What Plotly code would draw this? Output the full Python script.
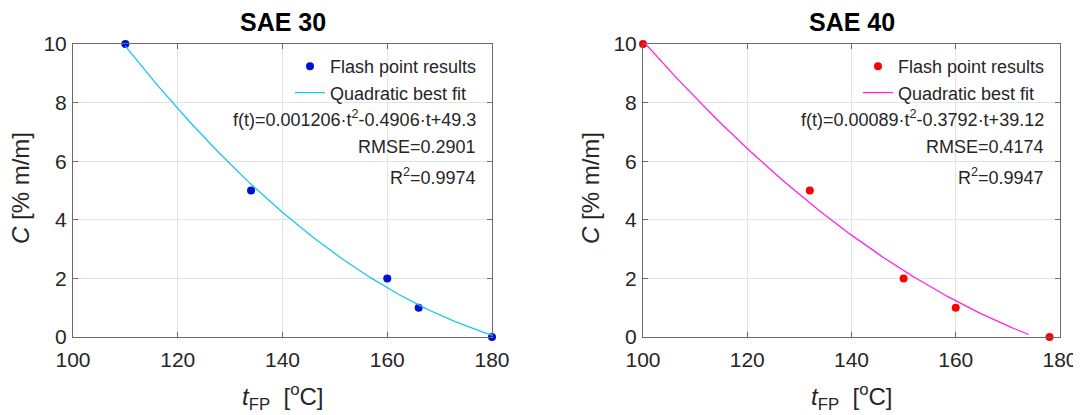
import numpy as np
import plotly.graph_objects as go

# ---- data ----
t_sae30 = [110, 134, 160, 166, 180]
c_sae30 = [10, 5, 2, 1, 0]
t_sae40 = [100, 132, 150, 160, 178]
c_sae40 = [10, 5, 2, 1, 0]

# quadratic fit coefficients (a, b, c) as printed on the chart
fit_sae30 = [0.001206, -0.4906, 49.3]
fit_sae40 = [0.00089, -0.3792, 39.12]
fit_range_sae30 = [110, 180]
fit_range_sae40 = [100, 174]

titles = ["SAE 30", "SAE 40"]
eq_texts = [
    ["f(t)=0.001206·t<sup>2</sup>-0.4906·t+49.3", "RMSE=0.2901", "R<sup>2</sup>=0.9974"],
    ["f(t)=0.00089·t<sup>2</sup>-0.3792·t+39.12", "RMSE=0.4174", "R<sup>2</sup>=0.9947"],
]
x_ticks = [100, 120, 140, 160, 180]
y_ticks = [0, 2, 4, 6, 8, 10]

OFF = 8  # page body margin offset
W, H = 1081 - OFF, 415 - OFF
FONT = "Liberation Sans, Arial, sans-serif"
TXT = "#262626"

def px_x(p):
    return (p - OFF) / W

def px_y(p):
    return 1 - (p - OFF) / H

def fit_curve(coef, rng):
    t = np.linspace(rng[0], rng[1], 200)
    return t, coef[0] * t**2 + coef[1] * t + coef[2]

fig = go.Figure()

panels = [
    dict(t=t_sae30, c=c_sae30, coef=fit_sae30, rng=fit_range_sae30,
         mcol="#0010d0", lcol="#19c6ee", xa="x", ya="y", leg="legend",
         left=73, right=492),
    dict(t=t_sae40, c=c_sae40, coef=fit_sae40, rng=fit_range_sae40,
         mcol="#ff0000", lcol="#ff22ee", xa="x2", ya="y2", leg="legend2",
         left=643, right=1060),
]

top_px, bot_px = 44, 337

for i, p in enumerate(panels):
    tf, cf = fit_curve(p["coef"], p["rng"])
    fig.add_trace(go.Scatter(
        x=p["t"], y=p["c"], mode="markers", name="Flash point results",
        marker=dict(color=p["mcol"], size=8), cliponaxis=False,
        xaxis=p["xa"], yaxis=p["ya"], legend=p["leg"]))
    fig.add_trace(go.Scatter(
        x=tf, y=cf, mode="lines", name="Quadratic best fit",
        line=dict(color=p["lcol"], width=1.3),
        xaxis=p["xa"], yaxis=p["ya"], legend=p["leg"]))

axis_common = dict(
    showgrid=True, gridcolor="#e3e3e3", gridwidth=1,
    showline=True, linecolor="#6b6b6b", linewidth=1, mirror="ticks",
    ticks="inside", ticklen=5, tickcolor="#6b6b6b", automargin=False,
    zeroline=False, tickfont=dict(family=FONT, size=21, color=TXT),
)

layout = dict(
    width=W, height=H, margin=dict(l=0, r=0, t=0, b=0, autoexpand=False),
    plot_bgcolor="white", paper_bgcolor="white",
    font=dict(family=FONT, color=TXT),
)

for i, p in enumerate(panels):
    sfx = "" if i == 0 else str(i + 1)
    layout["xaxis" + sfx] = dict(
        axis_common, domain=[px_x(p["left"]), px_x(p["right"])],
        range=[100, 180], tickvals=x_ticks, anchor="y" + sfx,
        ticklabelstandoff=4)
    layout["yaxis" + sfx] = dict(
        axis_common, domain=[px_y(bot_px), px_y(top_px)],
        range=[0, 10], tickvals=y_ticks, anchor="x" + sfx,
        ticklabelstandoff=1)
    text_right = p["right"] - 14
    layout["legend" if i == 0 else "legend2"] = dict(
        x=px_x(text_right + 4), xanchor="right",
        y=px_y(48), yanchor="top",
        bgcolor="rgba(0,0,0,0)", borderwidth=0,
        font=dict(family=FONT, size=18, color=TXT),
        tracegroupgap=0, itemwidth=30,
    )

fig.update_layout(**layout)

annotations = []
for i, p in enumerate(panels):
    cx = (p["left"] + p["right"]) / 2
    text_right = p["right"] - 14
    annotations.append(dict(
        text="<b>%s</b>" % titles[i], x=px_x(cx), y=px_y(22),
        xref="paper", yref="paper", xanchor="center", yanchor="middle",
        showarrow=False, font=dict(family=FONT, size=25, color="#000000")))
    for k, (txt, yp) in enumerate(zip(eq_texts[i], [118, 147, 176])):
        annotations.append(dict(
            text=txt, x=px_x(text_right), y=px_y(yp),
            xref="paper", yref="paper", xanchor="right", yanchor="middle",
            showarrow=False, font=dict(family=FONT, size=18, color=TXT)))
    annotations.append(dict(
        text="<i>t</i><sub>FP</sub>  [<sup>o</sup>C]", x=px_x(cx), y=px_y(397),
        xref="paper", yref="paper", xanchor="center", yanchor="middle",
        showarrow=False, font=dict(family=FONT, size=24, color=TXT)))
    annotations.append(dict(
        text="<i>C</i> [% m/m]", x=px_x(p["left"] - 53), y=px_y(188),
        xref="paper", yref="paper", xanchor="center", yanchor="middle",
        textangle=-90, showarrow=False,
        font=dict(family=FONT, size=24, color=TXT)))

fig.update_layout(annotations=annotations)

fig.write_html("out.html")
